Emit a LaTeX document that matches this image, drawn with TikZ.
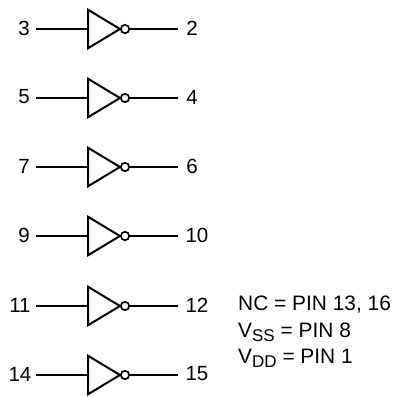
\documentclass[tikz,border=0pt]{standalone}
\usepackage{fontspec}
\setmainfont{Liberation Sans}
\usetikzlibrary{shapes.geometric}
\newcommand{\subtxt}[1]{\raisebox{-4pt}{\fontsize{17pt}{18pt}\selectfont #1}}
\tikzset{
  inv/.style={draw,line width=2pt,isosceles triangle,isosceles triangle stretches,shape border rotate=0,minimum width=38.5pt,minimum height=32pt,inner sep=0pt,outer sep=0pt,anchor=lower side,line join=miter},
  bub/.style={draw,line width=1.7pt,circle,minimum size=8.4pt,inner sep=0pt,outer sep=0pt},
  wire/.style={line width=2pt},
  lab/.style={font=\fontsize{20.5pt}{22pt}\selectfont,inner sep=0pt},
  note/.style={font=\fontsize{20.9pt}{22pt}\selectfont,inner sep=0pt,anchor=base west}
}
\begin{document}
\begin{tikzpicture}[x=1pt,y=-1pt]
\useasboundingbox (0,0) rectangle (394,397);
\foreach \n/\y/\a/\b/\ax/\bx in {1/29/3/2/24/192, 2/98/5/4/24/192, 3/167/7/6/24/192, 4/236/9/10/24/197, 5/306/11/12/20/197, 6/375/14/15/20/197}{
  \node[inv] (g\n) at (88,\y) {};
  \node[bub] (b\n) at (125,\y) {};
  \node[lab] (l\n) at (\ax,\y-1) {\a};
  \node[lab] (r\n) at (\bx,\y-1) {\b};
  \coordinate (i\n) at (36,\y);
  \coordinate (o\n) at (178,\y);
  \draw[wire] (i\n) -- (g\n.lower side);
  \draw[wire] (b\n) -- (o\n);
}
\node[note] (n1) at (238,310) {NC = PIN 13, 16};
\node[note] (n2) at (238,337) {V\subtxt{SS} = PIN 8};
\node[note] (n3) at (238,363) {V\subtxt{DD} = PIN 1};
\end{tikzpicture}
\end{document}
